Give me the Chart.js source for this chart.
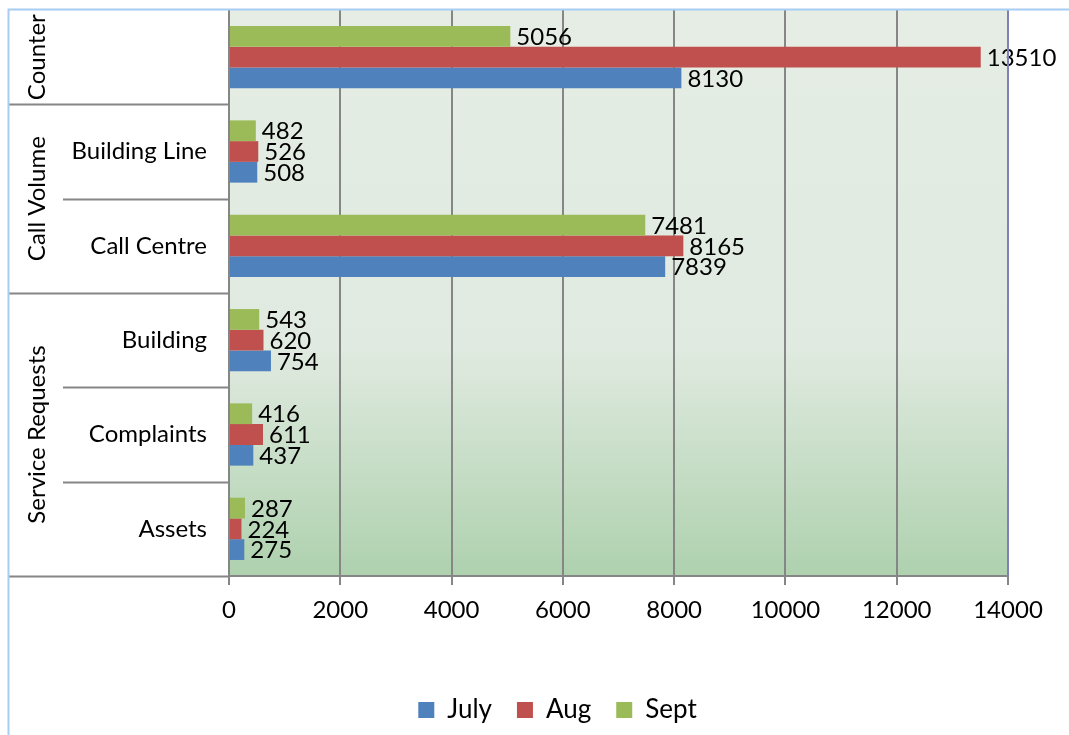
<!DOCTYPE html>
<html>
<head>
<meta charset="utf-8">
<script src="https://cdn.jsdelivr.net/npm/chart.js@4/dist/chart.umd.min.js"></script>
<style>
  html, body { margin: 0; padding: 0; background: #fff; }
</style>
</head>
<body>
<canvas id="myChart" width="1069" height="735"></canvas>
<script>
// chart data
const Categories = ['Counter', 'Building Line', 'Call Centre', 'Building', 'Complaints', 'Assets']
const Groups = ['Counter', 'Call Volume', 'Service Requests']
const GroupSizes = [1, 2, 3]
const JulyValues = [8130, 508, 7839, 754, 437, 275]
const AugValues = [13510, 526, 8165, 620, 611, 224]
const SeptValues = [5056, 482, 7481, 543, 416, 287]
const XMin = 0
const XMax = 14000
const XStep = 2000

const FONT = 'Lato'
const LINE = '#868686'

// background gradient + frame lines + group labels
const framePlugin = {
  id: 'framePlugin',
  afterLayout(chart) {
    // legend sits a bit right of centre in the original
    chart.legend.left += 49
    chart.legend.right += 49
  },
  beforeDraw(chart) {
    const {ctx, chartArea: a} = chart
    const g = ctx.createLinearGradient(0, a.top, 0, a.bottom)
    g.addColorStop(0, '#e5ede5')
    g.addColorStop(0.6, '#e0eae0')
    g.addColorStop(1, '#aed1ae')
    ctx.save()
    ctx.fillStyle = g
    ctx.fillRect(a.left, a.top, a.right - a.left, a.bottom - a.top)
    ctx.restore()
  },
  afterDraw(chart) {
    const {ctx, chartArea: a} = chart
    const y = chart.scales.y
    const bound = i => {
      if (i <= 0) return a.top
      if (i >= Categories.length) return a.bottom
      return (y.getPixelForValue(i - 1) + y.getPixelForValue(i)) / 2
    }
    ctx.save()
    ctx.strokeStyle = LINE
    ctx.lineWidth = 2
    let ends = []
    let c = 0
    GroupSizes.forEach(s => { c += s; ends.push(c) })
    for (let i = 1; i <= Categories.length; i++) {
      const yy = Math.round(bound(i)) + 0.5
      const x0 = ends.includes(i) ? 9 : 63
      ctx.beginPath()
      ctx.moveTo(x0, yy)
      ctx.lineTo(a.left, yy)
      ctx.stroke()
    }
    // right border of plot
    ctx.strokeStyle = '#8080b8'
    ctx.beginPath()
    ctx.moveTo(a.right, a.top)
    ctx.lineTo(a.right, a.bottom)
    ctx.stroke()
    // outer light blue border
    ctx.strokeStyle = '#a8cdf3'
    ctx.beginPath()
    ctx.moveTo(1069, 9.5)
    ctx.lineTo(8.5, 9.5)
    ctx.lineTo(8.5, 735)
    ctx.stroke()
    // group labels
    ctx.fillStyle = '#000'
    ctx.font = `24px ${FONT}`
    ctx.textAlign = 'center'
    ctx.textBaseline = 'middle'
    let start = 0
    Groups.forEach((name, gi) => {
      const top = bound(start)
      const bot = bound(start + GroupSizes[gi])
      ctx.save()
      ctx.translate(37, (top + bot) / 2)
      ctx.rotate(-Math.PI / 2)
      ctx.fillText(name, 0, 0)
      ctx.restore()
      start += GroupSizes[gi]
    })
    ctx.restore()
  },
  afterDatasetsDraw(chart) {
    const {ctx} = chart
    ctx.save()
    ctx.fillStyle = '#000'
    ctx.font = `24px ${FONT}`
    ctx.textAlign = 'left'
    ctx.textBaseline = 'middle'
    chart.data.datasets.forEach((ds, di) => {
      const meta = chart.getDatasetMeta(di)
      meta.data.forEach((bar, i) => {
        ctx.fillText(String(ds.data[i]), bar.x + 6, bar.y + 1)
      })
    })
    ctx.restore()
  }
}

const ctx = document.getElementById('myChart')
new Chart(ctx, {
  type: 'bar',
  data: {
    labels: Categories,
    datasets: [
      { label: 'Sept', data: SeptValues, backgroundColor: '#9bbb59' },
      { label: 'Aug', data: AugValues, backgroundColor: '#c0504d' },
      { label: 'July', data: JulyValues, backgroundColor: '#4f81bd' }
    ]
  },
  options: {
    indexAxis: 'y',
    responsive: false,
    animation: false,
    devicePixelRatio: 1,
    categoryPercentage: 0.66,
    barPercentage: 1.0,
    layout: { padding: { left: 9, top: 10, right: 61, bottom: 2 } },
    scales: {
      x: {
        min: XMin,
        max: XMax,
        ticks: {
          stepSize: XStep, color: '#000', font: { family: FONT, size: 24 }, padding: 11,
          callback: v => String(v)
        },
        grid: { color: LINE, lineWidth: 2, tickLength: 9 },
        border: { color: LINE, width: 2 },
        afterFit(scale) { scale.height = 96 }
      },
      y: {
        ticks: {
          color: '#000', font: { family: FONT, size: 24 }, padding: 22,
          // a category that is its own group only shows the group label
          callback: function (v) {
            const name = this.getLabelForValue(v)
            return Groups.includes(name) ? '' : name
          }
        },
        grid: { drawOnChartArea: false, drawTicks: false },
        border: { color: LINE, width: 2 },
        afterFit(scale) {
          scale.width = 220
          scale.paddingTop = 0
          scale.paddingBottom = 0
        }
      }
    },
    plugins: {
      legend: {
        position: 'bottom',
        reverse: true,
        labels: { boxWidth: 16, boxHeight: 16, padding: 25, color: '#000', font: { family: FONT, size: 26 } }
      },
      tooltip: { enabled: false }
    }
  },
  plugins: [framePlugin]
})
</script>
</body>
</html>
